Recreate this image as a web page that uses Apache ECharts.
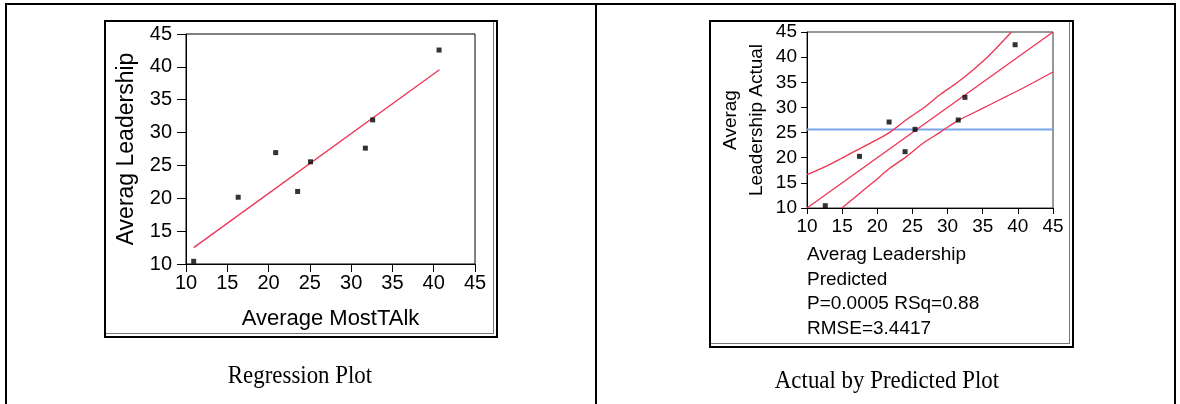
<!DOCTYPE html>
<html><head><meta charset="utf-8">
<script src="https://cdn.jsdelivr.net/npm/echarts@6/dist/echarts.min.js"></script>
<style>
html,body{margin:0;padding:0;background:#fff;}
#wrap{position:relative;width:1180px;height:404px;overflow:hidden;background:#fff;}
.ln{position:absolute;background:#000;}
.g{position:absolute;background:#777;}
#chart{position:absolute;left:0;top:0;width:1180px;height:404px;}
</style></head><body>
<div id="wrap">
  <div class="ln" style="left:5px;top:3px;width:1171px;height:2px"></div>
  <div class="ln" style="left:5px;top:3px;width:2px;height:401px"></div>
  <div class="ln" style="left:595px;top:3px;width:2px;height:401px"></div>
  <div class="ln" style="left:1174px;top:3px;width:2px;height:401px"></div>
  <!-- left panel frame -->
  <div style="position:absolute;left:104px;top:20px;width:394px;height:318px;border:2px solid #000;box-sizing:border-box"></div>
  <div class="g" style="left:493px;top:22px;width:1px;height:312px"></div>
  <div class="g" style="left:106px;top:333px;width:388px;height:1px"></div>
  <!-- right panel frame -->
  <div style="position:absolute;left:709px;top:20px;width:365px;height:328px;border:2px solid #000;box-sizing:border-box"></div>
  <div class="g" style="left:1069px;top:22px;width:1px;height:322px"></div>
  <div class="g" style="left:711px;top:343px;width:359px;height:1px"></div>
  <div id="chart"></div>
</div>
<script>
// ---- data ----
const axisTicks = [10, 15, 20, 25, 30, 35, 40, 45];
// Regression Plot
const mostTalk   = [10.93, 16.32, 20.86, 23.52, 25.08, 31.72, 32.61, 40.65];
const leadership = [10.41, 20.16, 26.95, 21.04, 25.55, 27.63, 31.93, 42.56];
const fitX = [10.93, 40.69];
const fitY = [12.49, 39.55];
// Actual by Predicted Plot
const predicted = [12.60, 17.47, 21.68, 23.95, 25.37, 31.52, 32.47, 39.61];
const actual    = [10.46, 20.27, 27.10, 21.20, 25.64, 27.50, 32.00, 42.47];
const diagX = [10, 45];
const diagY = [10, 45];
const upperX = [10, 12.37, 14.73, 17.05, 19.41, 21.78, 24.14, 26.56, 28.92, 31.29, 33.65, 36.02, 39.09];
const upperY = [16.63, 18.08, 19.74, 21.46, 23.19, 25.04, 27.56, 29.88, 32.53, 34.85, 37.50, 40.49, 45];
const lowerX = [14.97, 17.09, 19.46, 21.82, 24.19, 26.55, 28.92, 31.28, 33.65, 36.02, 38.39, 40.76, 45];
const lowerY = [10, 12.45, 15.17, 17.95, 20.27, 22.92, 25.04, 27.23, 28.89, 30.54, 32.20, 33.86, 37.04];
const meanActual = 25.6;
const statLines = ['Averag Leadership', 'Predicted', 'P=0.0005 RSq=0.88', 'RMSE=3.4417'];
const captions = ['Regression Plot', 'Actual by Predicted Plot'];

const zip = (a, b) => a.map((v, i) => [v, b[i]]);
const RED = '#ee3355';
const FONT = '"Liberation Sans", Arial, sans-serif';
const SERIF = '"Liberation Serif", "Times New Roman", serif';

function mkAxis(gi, fs, margin, tickLen, name, nameGap, nameFs, isY) {
  return {
    type: 'value', gridIndex: gi, min: axisTicks[0], max: axisTicks[axisTicks.length - 1], interval: 5,
    name: name, nameLocation: 'middle', nameGap: nameGap,
    nameRotate: isY ? 90 : 0,
    nameTextStyle: { color: '#000', fontSize: nameFs, fontFamily: FONT, lineHeight: 26 },
    axisLine: { show: true, lineStyle: { color: '#000', width: 1 } },
    axisTick: { show: true, length: tickLen, lineStyle: { color: '#000' } },
    axisLabel: { color: '#000', fontSize: fs, fontFamily: FONT, margin: margin, showMinLabel: true, showMaxLabel: true },
    splitLine: { show: false }
  };
}

const chart = echarts.init(document.getElementById('chart'), null, { renderer: 'canvas' });
chart.setOption({
  animation: false,
  backgroundColor: 'transparent',
  grid: [
    { left: 186, top: 34, width: 289, height: 230, show: true, borderColor: '#000', borderWidth: 1 },
    { left: 807, top: 32, width: 246, height: 176, show: true, borderColor: '#333', borderWidth: 1 }
  ],
  xAxis: [
    mkAxis(0, 20, 9, 8, 'Average MostTAlk', 42, 22, false),
    mkAxis(1, 19, 9, 6, '', 0, 19, false)
  ],
  yAxis: [
    mkAxis(0, 20, 14, 9, 'Averag Leadership', 46, 23, true),
    mkAxis(1, 19, 10, 6, 'Averag\nLeadership Actual', 37, 19, true)
  ],
  series: [
    { type: 'line', xAxisIndex: 0, yAxisIndex: 0, data: zip(fitX, fitY), showSymbol: false,
      lineStyle: { color: RED, width: 1.3 }, z: 2 },
    { type: 'scatter', xAxisIndex: 0, yAxisIndex: 0, data: zip(mostTalk, leadership),
      symbol: 'rect', symbolSize: 5, itemStyle: { color: '#000' }, z: 3 },
    { type: 'line', xAxisIndex: 1, yAxisIndex: 1, data: zip([10, 45], [meanActual, meanActual]), showSymbol: false,
      lineStyle: { color: '#7aa6ec', width: 2 }, z: 1 },
    { type: 'line', xAxisIndex: 1, yAxisIndex: 1, data: zip(diagX, diagY), showSymbol: false,
      lineStyle: { color: RED, width: 1.3 }, z: 2 },
    { type: 'line', xAxisIndex: 1, yAxisIndex: 1, data: zip(upperX, upperY), showSymbol: false, smooth: 0.3,
      lineStyle: { color: RED, width: 1.3 }, z: 2 },
    { type: 'line', xAxisIndex: 1, yAxisIndex: 1, data: zip(lowerX, lowerY), showSymbol: false, smooth: 0.3,
      lineStyle: { color: RED, width: 1.3 }, z: 2 },
    { type: 'scatter', xAxisIndex: 1, yAxisIndex: 1, data: zip(predicted, actual),
      symbol: 'rect', symbolSize: 5, itemStyle: { color: '#000' }, z: 3 }
  ],
  graphic: [
    { type: 'text', left: 807, top: 243, style: { text: statLines.join('\n'), fill: '#000',
      font: '19px ' + FONT, lineHeight: 24.5 } },
    { type: 'text', x: 300, y: 376, scaleX: 0.88, style: { text: captions[0], fill: '#000', font: '26px ' + SERIF,
      align: 'center', verticalAlign: 'middle' } },
    { type: 'text', x: 887, y: 381, scaleX: 0.88, style: { text: captions[1], fill: '#000', font: '26px ' + SERIF,
      align: 'center', verticalAlign: 'middle' } }
  ]
});
</script>
</body></html>
